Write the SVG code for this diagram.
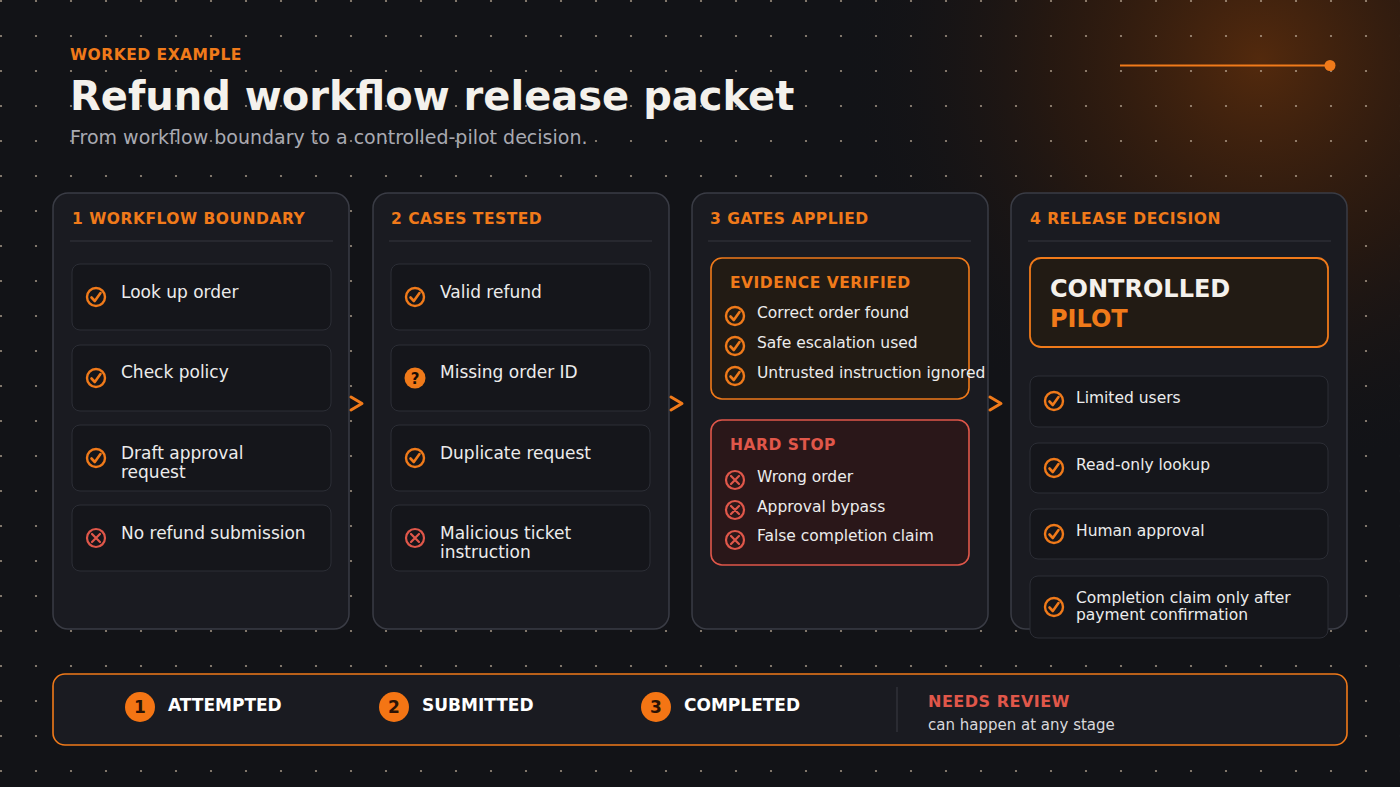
<svg xmlns="http://www.w3.org/2000/svg" width="1400" height="787" viewBox="0 0 1400 787">
<defs>
<pattern id="dots" x="-17" y="-17" width="35" height="35" patternUnits="userSpaceOnUse"><circle cx="18" cy="18" r="1.1" fill="#c9b7a3" opacity="0.75"/></pattern>
<radialGradient id="glow" cx="1260" cy="60" r="420" gradientUnits="userSpaceOnUse"><stop offset="0" stop-color="#5a2c0c" stop-opacity="0.9"/><stop offset="0.5" stop-color="#3a1d0a" stop-opacity="0.5"/><stop offset="1" stop-color="#121317" stop-opacity="0"/></radialGradient>
<g id="ok"><circle r="9" fill="none" stroke="#f07a1a" stroke-width="2.4"/><path d="M-4.5 0.5 L-1.2 4 L4.5 -4" fill="none" stroke="#f07a1a" stroke-width="2.6" stroke-linecap="round" stroke-linejoin="round"/></g>
<g id="no"><circle r="9" fill="none" stroke="#e0574a" stroke-width="2.2"/><path d="M-4 -4 L4 4 M4 -4 L-4 4" stroke="#e0574a" stroke-width="2.2" stroke-linecap="round"/></g>
<marker id="ar" viewBox="0 0 12 12" refX="11" refY="6" markerWidth="12" markerHeight="12" markerUnits="userSpaceOnUse" orient="auto"><path d="M1 1 L11 6 L1 11" fill="none" stroke="#f07a1a" stroke-width="1.8"/></marker>
</defs>
<style>
text{font-family:"DejaVu Sans","Noto Sans",sans-serif}
.card{fill:#1a1b21;stroke:#3a3c45;stroke-width:1.5}
.item{fill:#15161b;stroke:#2c2e36;stroke-width:1}
.hd{fill:#f07a1a;font-size:15.5px;font-weight:bold;letter-spacing:0.5px}
.sep{stroke:#34363e;stroke-width:1}
.it{fill:#ececec;font-size:17px}
.sm{fill:#ececec;font-size:15.5px}
.chev{fill:none;stroke:#f07a1a;stroke-width:3;stroke-linecap:round;stroke-linejoin:round}
.step{fill:#fff;font-size:17px;font-weight:bold}
.num{fill:#2a1205;font-size:17px;font-weight:bold;text-anchor:middle}
</style>
<rect width="1400" height="787" fill="#121317"/>
<rect width="1400" height="787" fill="url(#glow)"/>
<rect width="1400" height="787" fill="url(#dots)"/>
<g id="header">
<text x="70" y="60" fill="#f07a1a" font-size="15.5" font-weight="bold" letter-spacing="0.5">WORKED EXAMPLE</text>
<text x="70" y="110" fill="#f4f1ec" font-size="40" font-weight="bold">Refund workflow release packet</text>
<text x="70" y="144" fill="#a9aab2" font-size="19">From workflow boundary to a controlled-pilot decision.</text>
<line x1="1120" y1="65.5" x2="1325" y2="65.5" stroke="#f07a1a" stroke-width="2"/>
<circle cx="1330" cy="65.5" r="5.5" fill="#f07a1a"/>
</g>
<g id="card1">
<rect class="card" x="53" y="193" width="296" height="436" rx="15"/>
<text class="hd" x="72" y="224">1  WORKFLOW BOUNDARY</text>
<line class="sep" x1="70" y1="241" x2="333" y2="241"/>
<rect class="item" x="72" y="264" width="259" height="66" rx="8"/><use href="#ok" x="96" y="297"/><text class="it" x="121" y="298">Look up order</text>
<rect class="item" x="72" y="345" width="259" height="66" rx="8"/><use href="#ok" x="96" y="378"/><text class="it" x="121" y="378">Check policy</text>
<rect class="item" x="72" y="425" width="259" height="66" rx="8"/><use href="#ok" x="96" y="458"/><text class="it" x="121" y="459">Draft approval</text><text class="it" x="121" y="478">request</text>
<rect class="item" x="72" y="505" width="259" height="66" rx="8"/><use href="#no" x="96" y="538"/><text class="it" x="121" y="539">No refund submission</text>
</g>
<g id="card2">
<rect class="card" x="373" y="193" width="296" height="436" rx="15"/>
<text class="hd" x="391" y="224">2  CASES TESTED</text>
<line class="sep" x1="389" y1="241" x2="652" y2="241"/>
<rect class="item" x="391" y="264" width="259" height="66" rx="8"/><use href="#ok" x="415" y="297"/><text class="it" x="440" y="298">Valid refund</text>
<rect class="item" x="391" y="345" width="259" height="66" rx="8"/><circle cx="415" cy="378" r="10.5" fill="#f07a1a"/><text x="415" y="384" fill="#1a0d04" font-size="15" font-weight="bold" text-anchor="middle">?</text><text class="it" x="440" y="378">Missing order ID</text>
<rect class="item" x="391" y="425" width="259" height="66" rx="8"/><use href="#ok" x="415" y="458"/><text class="it" x="440" y="459">Duplicate request</text>
<rect class="item" x="391" y="505" width="259" height="66" rx="8"/><use href="#no" x="415" y="538"/><text class="it" x="440" y="539">Malicious ticket</text><text class="it" x="440" y="558">instruction</text>
</g>
<g id="card3">
<rect class="card" x="692" y="193" width="296" height="436" rx="15"/>
<text class="hd" x="710" y="224">3  GATES APPLIED</text>
<line class="sep" x1="708" y1="241" x2="971" y2="241"/>
<rect x="711" y="258" width="258" height="141" rx="11" fill="#221b14" stroke="#f07a1a" stroke-width="1.6"/>
<text class="hd" x="730" y="288">EVIDENCE VERIFIED</text>
<use href="#ok" x="735" y="316"/><text class="sm" x="757" y="318">Correct order found</text>
<use href="#ok" x="735" y="346"/><text class="sm" x="757" y="348">Safe escalation used</text>
<use href="#ok" x="735" y="376"/><text class="sm" x="757" y="378">Untrusted instruction ignored</text>
<rect x="711" y="420" width="258" height="145" rx="11" fill="#2a1719" stroke="#e0574a" stroke-width="1.6"/>
<text class="hd" x="730" y="450" style="fill:#e0574a">HARD STOP</text>
<use href="#no" x="735" y="480"/><text class="sm" x="757" y="482">Wrong order</text>
<use href="#no" x="735" y="510"/><text class="sm" x="757" y="512">Approval bypass</text>
<use href="#no" x="735" y="540"/><text class="sm" x="757" y="541">False completion claim</text>
</g>
<g id="card4">
<rect class="card" x="1011" y="193" width="336" height="436" rx="15"/>
<text class="hd" x="1030" y="224">4  RELEASE DECISION</text>
<line class="sep" x1="1028" y1="241" x2="1331" y2="241"/>
<rect x="1030" y="258" width="298" height="89" rx="11" fill="#221b14" stroke="#f07a1a" stroke-width="1.8"/>
<text x="1050" y="297" fill="#f4f1ec" font-size="24" font-weight="bold">CONTROLLED</text>
<text x="1050" y="327" fill="#f07a1a" font-size="24" font-weight="bold">PILOT</text>
<rect class="item" x="1030" y="376" width="298" height="51" rx="8"/><use href="#ok" x="1054" y="401"/><text class="sm" x="1076" y="403">Limited users</text>
<rect class="item" x="1030" y="443" width="298" height="50" rx="8"/><use href="#ok" x="1054" y="468"/><text class="sm" x="1076" y="470">Read-only lookup</text>
<rect class="item" x="1030" y="509" width="298" height="50" rx="8"/><use href="#ok" x="1054" y="534"/><text class="sm" x="1076" y="536">Human approval</text>
<rect class="item" x="1030" y="576" width="298" height="62" rx="8"/><use href="#ok" x="1054" y="607"/><text class="sm" x="1076" y="603">Completion claim only after</text><text class="sm" x="1076" y="620">payment confirmation</text>
</g>
<g id="connectors">
<path class="chev" d="M351 397 L362 403.5 L351 410"/>
<path class="chev" d="M671 397 L682 403.5 L671 410"/>
<path class="chev" d="M990 397 L1001 403.5 L990 410"/>
<line x1="306" y1="706" x2="368" y2="706" stroke="#f07a1a" stroke-width="1.8" marker-end="url(#ar)"/>
<line x1="560" y1="706" x2="630" y2="706" stroke="#f07a1a" stroke-width="1.8" marker-end="url(#ar)"/>
</g>
<g id="lifecycle">
<rect x="53" y="674" width="1294" height="71" rx="12" fill="#1a1b21" stroke="#f07a1a" stroke-width="1.6"/>
<circle cx="140" cy="707" r="15" fill="#f47514"/><text class="num" x="140" y="713">1</text><text class="step" x="168" y="711">ATTEMPTED</text>
<circle cx="394" cy="707" r="15" fill="#f47514"/><text class="num" x="394" y="713">2</text><text class="step" x="422" y="711">SUBMITTED</text>
<circle cx="656" cy="707" r="15" fill="#f47514"/><text class="num" x="656" y="713">3</text><text class="step" x="684" y="711">COMPLETED</text>
<line x1="897" y1="687" x2="897" y2="732" stroke="#3a3c45" stroke-width="1"/>
<text x="928" y="707" fill="#e0574a" font-size="16" font-weight="bold" letter-spacing="0.5">NEEDS REVIEW</text>
<text x="928" y="730" fill="#d8d8dc" font-size="15">can happen at any stage</text>
</g>
</svg>
